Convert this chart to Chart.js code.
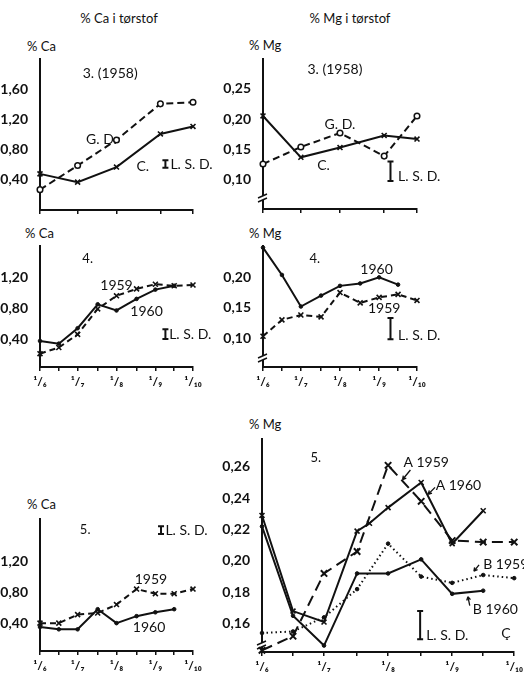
<!DOCTYPE html>
<html>
<head>
<meta charset="utf-8">
<script src="https://cdn.jsdelivr.net/npm/chart.js@4.4.1/dist/chart.umd.min.js"></script>
<style>
body { margin: 0; background: #fff; width: 524px; height: 675px; overflow: hidden; position: relative;
       font-family: Lato, "DejaVu Sans", sans-serif; color: #111; }
canvas { position: absolute; }
.lbl { position: absolute; font-size: 13px; line-height: 1; white-space: nowrap; transform: translateY(-50%); }
.mid { transform: translate(-50%, -50%); }
</style>
</head>
<body>
<div class="lbl mid" style="left:119px;top:18px">% Ca i tørstof</div>
<div class="lbl mid" style="left:350px;top:18px">% Mg i tørstof</div>
<div class="lbl" style="left:27px;top:46px">% Ca</div>
<div class="lbl" style="left:249px;top:45px">% Mg</div>
<div class="lbl" style="left:25px;top:233px">% Ca</div>
<div class="lbl" style="left:249px;top:233px">% Mg</div>
<div class="lbl" style="left:27px;top:504px">% Ca</div>
<div class="lbl" style="left:249px;top:424px">% Mg</div>

<script>
// dates as days after 1/6
const days3 = [0, 30, 61, 96, 122];
const days = [0, 15, 30, 46, 61, 77, 92, 107, 122];
const monthDays = [0, 30, 61, 92, 122];
const monthLabels = ['¹/₆', '¹/₇', '¹/₈', '¹/₉', '¹/₁₀'];

// 3. (1958)
const ca3C  = [0.48, 0.37, 0.57, 1.01, 1.11];
const ca3GD = [0.27, 0.59, 0.93, 1.41, 1.43];
const mg3C  = [0.205, 0.137, 0.153, 0.173, 0.167];
const mg3GD = [0.126, 0.154, 0.177, 0.139, 0.205];

// 4.
const ca4y1960 = [0.375, 0.34, 0.54, 0.85, 0.77, 0.92, 1.04, 1.09];
const ca4y1959 = [0.21, 0.29, 0.46, 0.79, 0.96, 1.05, 1.11, 1.09, 1.10];
const mg4y1960 = [0.249, 0.204, 0.152, 0.170, 0.186, 0.190, 0.200, 0.188];
const mg4y1959 = [0.103, 0.130, 0.138, 0.135, 0.175, 0.158, 0.167, 0.172, 0.162];

// 5.
const ca5y1960 = [0.36, 0.33, 0.33, 0.59, 0.41, 0.50, 0.55, 0.59];
const ca5y1959 = [0.41, 0.41, 0.52, 0.54, 0.65, 0.85, 0.79, 0.79, 0.85];
const a1959Days = [0, 15, 30, 46, 61, 77, 92, 107, 122];
const a1959 = [0.143, 0.152, 0.192, 0.206, 0.261, 0.238, 0.213, 0.212, 0.212];
const a1960Days = [0, 15, 30, 46, 52, 61, 77, 92, 107];
const a1960 = [0.229, 0.168, 0.161, 0.219, 0.224, 0.234, 0.250, 0.211, 0.232];
const b1959 = [0.154, 0.155, 0.164, 0.182, 0.211, 0.190, 0.186, 0.191, 0.189];
const b1960 = [0.222, 0.165, 0.146, 0.192, 0.192, 0.201, 0.179, 0.181];

const caTicks = [0.40, 0.80, 1.20, 1.60];
const caTicks45 = [0.40, 0.80, 1.20];
const mgTicks3 = [0.10, 0.15, 0.20, 0.25];
const mgTicks4 = [0.10, 0.15, 0.20];
const mgTicks5 = [0.16, 0.18, 0.20, 0.22, 0.24, 0.26];

const INK = '#111';
const STYLES = {
    solidX:   { borderDash: [],       pointStyle: 'crossRot', pointRadius: 3.5, pointBorderWidth: 1.6 },
    dashO:    { borderDash: [7, 4],   pointStyle: 'circle',   pointRadius: 2.8, pointBorderWidth: 1.5, pointBackgroundColor: '#fff' },
    solidDot: { borderDash: [],       pointStyle: 'circle',   pointRadius: 1.8, pointBorderWidth: 1 },
    dashX:    { borderDash: [6, 4],   pointStyle: 'crossRot', pointRadius: 3.5, pointBorderWidth: 1.6 },
    longDashX:{ borderDash: [11, 6],  pointStyle: 'crossRot', pointRadius: 4.5, pointBorderWidth: 2 },
    dotDot:   { borderDash: [1.5, 3], pointStyle: 'circle',   pointRadius: 1.8, pointBorderWidth: 1 }
};

function series(xs, ys, style) {
    return Object.assign({
        data: ys.map((v, i) => ({ x: xs[i], y: v })),
        borderColor: INK, borderWidth: 2, pointBorderColor: INK, pointBackgroundColor: INK,
        tension: 0, fill: false, clip: false
    }, STYLES[style]);
}

function notes(cfg) {
    return {
        id: 'notes',
        afterDatasetsDraw(chart) {
            const ctx = chart.ctx, xs = chart.scales.x, ys = chart.scales.y, area = chart.chartArea;
            const px = v => xs.getPixelForValue(v), py = v => ys.getPixelForValue(v);
            ctx.save();
            ctx.fillStyle = INK;
            ctx.strokeStyle = INK;
            ctx.textBaseline = 'middle';
            (cfg.texts || []).forEach(t => {
                ctx.font = (t.size || 14) + 'px Lato, "DejaVu Sans"';
                ctx.textAlign = t.align || 'center';
                ctx.fillText(t.text, px(t.x), py(t.y));
            });
            // L.S.D. bar
            if (cfg.lsd) {
                const x = px(cfg.lsd.x), y1 = py(cfg.lsd.lo), y2 = py(cfg.lsd.hi);
                ctx.lineWidth = 2;
                ctx.beginPath();
                ctx.moveTo(x, y1); ctx.lineTo(x, y2);
                ctx.moveTo(x - 3, y1); ctx.lineTo(x + 3, y1);
                ctx.moveTo(x - 3, y2); ctx.lineTo(x + 3, y2);
                ctx.stroke();
            }
            // little arrows to the curves
            (cfg.arrows || []).forEach(a => {
                const x1 = px(a[0]), y1 = py(a[1]), x2 = px(a[2]), y2 = py(a[3]);
                const ang = Math.atan2(y2 - y1, x2 - x1);
                ctx.lineWidth = 1.3;
                ctx.beginPath();
                ctx.moveTo(x1, y1); ctx.lineTo(x2, y2);
                ctx.moveTo(x2, y2); ctx.lineTo(x2 - 4 * Math.cos(ang - 0.5), y2 - 4 * Math.sin(ang - 0.5));
                ctx.moveTo(x2, y2); ctx.lineTo(x2 - 4 * Math.cos(ang + 0.5), y2 - 4 * Math.sin(ang + 0.5));
                ctx.stroke();
            });
            // axis break
            if (cfg.brk) {
                const x = area.left, y = area.bottom - cfg.brk;
                ctx.fillStyle = '#fff';
                ctx.fillRect(x - 2, y - 2, 4, 4);
                ctx.lineWidth = 1.4;
                ctx.beginPath();
                ctx.moveTo(x - 5, y + 0); ctx.lineTo(x + 4, y - 4);
                ctx.moveTo(x - 5, y + 4); ctx.lineTo(x + 4, y + 0);
                ctx.stroke();
            }
            ctx.restore();
        }
    };
}

function panel(box, cfg) {
    const padL = 46, padT = 8, padR = cfg.padR, padB = 28;
    const c = document.createElement('canvas');
    c.width = box.right - box.left + padL + padR;
    c.height = box.bottom - box.top + padT + padB;
    c.style.left = (box.left - padL) + 'px';
    c.style.top = (box.top - padT) + 'px';
    document.body.appendChild(c);

    new Chart(c, {
        type: 'line',
        data: { datasets: cfg.sets },
        options: {
            responsive: false,
            animation: false,
            devicePixelRatio: 1,
            layout: { padding: { top: padT, right: padR, left: 0, bottom: 0 } },
            plugins: { legend: { display: false }, tooltip: { enabled: false } },
            scales: {
                x: {
                    type: 'linear', min: 0, max: 122,
                    afterFit: s => { s.height = padB; },
                    afterBuildTicks: s => { s.ticks = cfg.xTicks.map(v => ({ value: v })); },
                    ticks: {
                        display: cfg.xLabels, autoSkip: false, maxRotation: 0, padding: 4, color: INK,
                        font: { family: 'Lato, "DejaVu Sans"', size: 12, weight: 'bold' },
                        callback: v => { const i = monthDays.indexOf(v); return i < 0 ? '' : monthLabels[i]; }
                    },
                    grid: { display: true, drawOnChartArea: false, tickLength: 4, color: INK, lineWidth: 1.5 },
                    border: { display: true, color: INK, width: 2 }
                },
                y: {
                    min: cfg.yMin, max: cfg.yMax,
                    afterFit: s => { s.width = padL; },
                    afterBuildTicks: s => { s.ticks = cfg.yTicks.map(v => ({ value: v })); },
                    ticks: {
                        padding: 4, color: INK,
                        font: { family: 'Lato, "DejaVu Sans"', size: 14, weight: 'bold' },
                        callback: v => v.toFixed(2).replace('.', ',')
                    },
                    grid: { display: false },
                    border: { display: true, color: INK, width: 2 }
                }
            }
        },
        plugins: [notes(cfg)]
    });
}

// Ca 3. (1958)
panel({ left: 40, top: 55, right: 193, bottom: 210 }, {
    padR: 40,
    yMin: 0, yMax: 2.0, yTicks: caTicks, xTicks: days3, xLabels: false,
    sets: [series(days3, ca3C, 'solidX'), series(days3, ca3GD, 'dashO')],
    texts: [
        { text: '3. (1958)', x: 56, y: 1.81 },
        { text: 'G. D.', x: 49, y: 0.94 },
        { text: 'C.', x: 82, y: 0.58 },
        { text: 'L. S. D.', x: 104, y: 0.61, align: 'left' }
    ],
    lsd: { x: 100, lo: 0.56, hi: 0.66 }
});

// Mg 3. (1958)
panel({ left: 263, top: 55, right: 417, bottom: 209 }, {
    padR: 107,
    yMin: 0.052, yMax: 0.298, yTicks: mgTicks3, xTicks: days3, xLabels: false, brk: 11,
    sets: [series(days3, mg3C, 'solidX'), series(days3, mg3GD, 'dashO')],
    texts: [
        { text: '3. (1958)', x: 57, y: 0.282 },
        { text: 'G. D.', x: 61, y: 0.191 },
        { text: 'C.', x: 48, y: 0.124 },
        { text: 'L. S. D.', x: 107, y: 0.106, align: 'left' }
    ],
    lsd: { x: 101, lo: 0.098, hi: 0.130 }
});

// Ca 4.
panel({ left: 40, top: 242, right: 193, bottom: 367 }, {
    padR: 40,
    yMin: 0.0375, yMax: 1.60, yTicks: caTicks45, xTicks: days, xLabels: true,
    sets: [series(days, ca4y1960, 'solidDot'), series(days, ca4y1959, 'dashX')],
    texts: [
        { text: '4.', x: 38, y: 1.44, size: 13 },
        { text: '1959', x: 61, y: 1.10 },
        { text: '1960', x: 85, y: 0.76 },
        { text: 'L. S. D.', x: 103, y: 0.46, align: 'left' }
    ],
    lsd: { x: 100, lo: 0.40, hi: 0.525 }
});

// Mg 4.
panel({ left: 263, top: 242, right: 417, bottom: 367 }, {
    padR: 107,
    yMin: 0.0524, yMax: 0.251, yTicks: mgTicks4, xTicks: days, xLabels: true, brk: 9,
    sets: [series(days, mg4y1960, 'solidDot'), series(days, mg4y1959, 'dashX')],
    texts: [
        { text: '4.', x: 41, y: 0.230, size: 13 },
        { text: '1960', x: 90, y: 0.213 },
        { text: '1959', x: 96, y: 0.148 },
        { text: 'L. S. D.', x: 107, y: 0.105, align: 'left' }
    ],
    lsd: { x: 101, lo: 0.098, hi: 0.133 }
});

// Ca 5.
panel({ left: 40, top: 515, right: 193, bottom: 651 }, {
    padR: 40,
    yMin: 0.05, yMax: 1.75, yTicks: caTicks45, xTicks: days, xLabels: true,
    sets: [series(days, ca5y1960, 'solidDot'), series(days, ca5y1959, 'dashX')],
    texts: [
        { text: '5.', x: 36, y: 1.62, size: 13 },
        { text: '1959', x: 88.5, y: 0.975 },
        { text: '1960', x: 87, y: 0.36 },
        { text: 'L. S. D.', x: 100, y: 1.61, align: 'left' }
    ],
    lsd: { x: 96.5, lo: 1.56, hi: 1.66 }
});

// Mg 5.
panel({ left: 262, top: 435, right: 517, bottom: 652 }, {
    padR: 10,
    yMin: 0.1419, yMax: 0.2775, yTicks: mgTicks5, xTicks: days, xLabels: true, brk: 7,
    sets: [
        series(a1959Days, a1959, 'longDashX'),
        series(a1960Days, a1960, 'solidX'),
        series(days, b1959, 'dotDot'),
        series(days, b1960, 'solidDot')
    ],
    texts: [
        { text: '5.', x: 26, y: 0.266, size: 13 },
        { text: 'A 1959', x: 68.4, y: 0.263, align: 'left' },
        { text: 'A 1960', x: 84, y: 0.248, align: 'left' },
        { text: 'B 1959', x: 107, y: 0.1975, align: 'left' },
        { text: 'B 1960', x: 102, y: 0.169, align: 'left' },
        { text: 'L. S. D.', x: 79.4, y: 0.1525, align: 'left' },
        { text: 'Ç', x: 118, y: 0.154 }
    ],
    lsd: { x: 76.5, lo: 0.150, hi: 0.168 },
    arrows: [
        [71.8, 0.258, 68, 0.2519],
        [83.7, 0.2469, 80.4, 0.2425],
        [105, 0.1975, 102.5, 0.1934],
        [100.5, 0.1715, 99.6, 0.1772]
    ]
});
</script>
</body>
</html>
